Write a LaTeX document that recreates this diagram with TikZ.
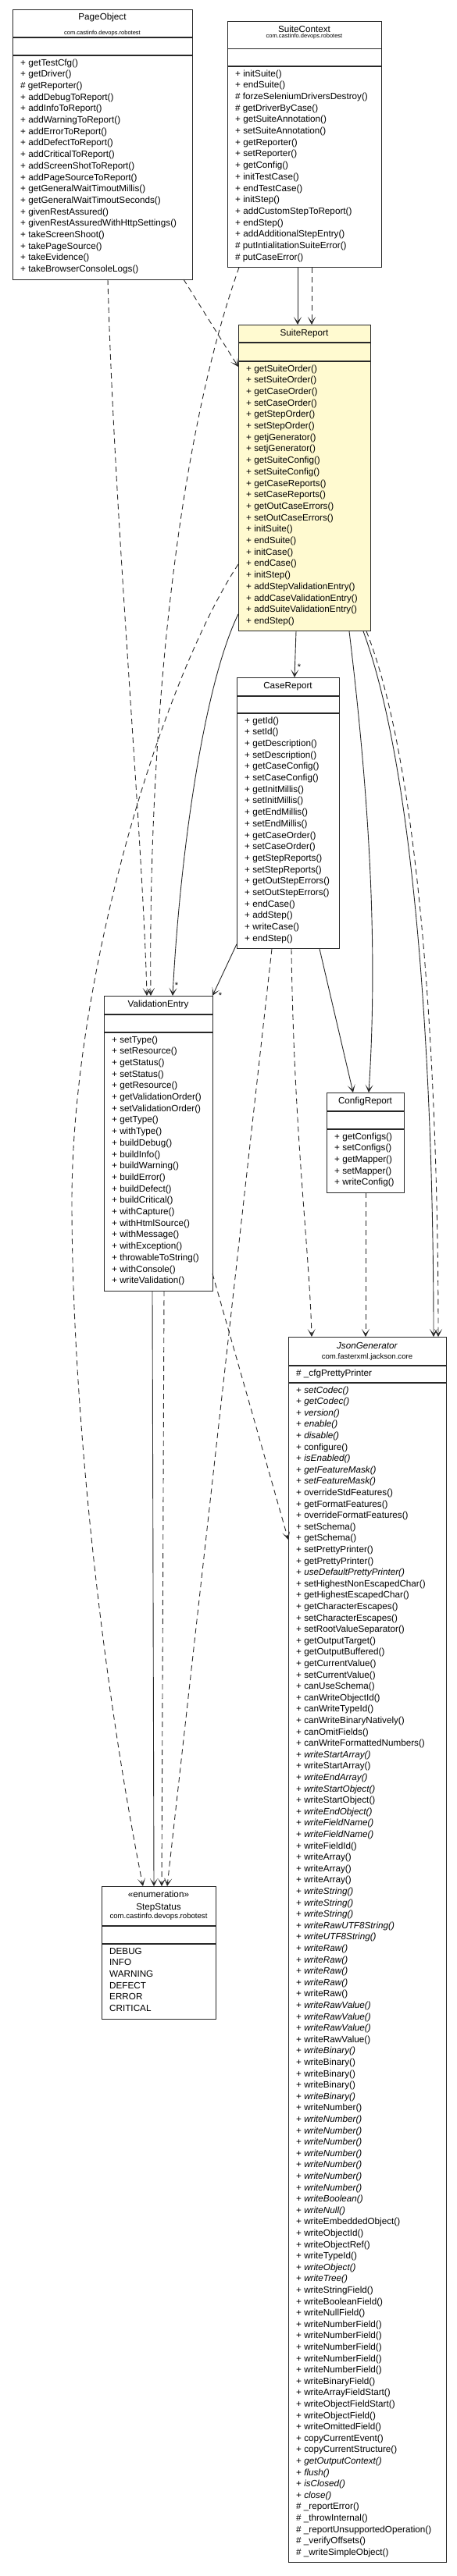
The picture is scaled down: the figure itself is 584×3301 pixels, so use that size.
\documentclass[tikz,border=0pt]{standalone}
\usepackage{fontspec}
\setmainfont{Liberation Sans}
\usetikzlibrary{arrows.meta,calc}
\definecolor{srfill}{RGB}{255,250,208}
\definecolor{ink}{RGB}{40,40,40}
\newcommand{\absm}[1]{+ \textit{#1}}
\newcommand{\umlmethods}[4][14.7]{\foreach \m [count=\k from 0] in {#4} {\node[mtext] at ($(#2.north west)+(10,{#3+\k*#1})$) {\m};}}
\newcommand{\umldiv}[2]{\draw[divider] ($(#1.north west)+(0,#2)$) -- ($(#1.north east)+(0,#2)$);}
\begin{document}
\begin{tikzpicture}[x=1pt,y=-1pt,
  umlbox/.style={draw=ink, line width=1pt, fill=white, anchor=north west, inner sep=0pt, outer sep=0pt},
  mtext/.style={anchor=base west, inner sep=0pt, font=\fontsize{11.7}{14}\selectfont},
  ntext/.style={anchor=base, inner sep=0pt, font=\fontsize{11.7}{14}\selectfont},
  ptext/.style={anchor=base, inner sep=0pt, font=\fontsize{7.5}{9}\selectfont},
  pbig/.style={anchor=base, inner sep=0pt, font=\fontsize{9.6}{11}\selectfont},
  divider/.style={line width=1.3pt, ink},
  conn/.style={line width=0.9pt, ink, -{Stealth[length=10pt,width=10pt,inset=6pt]}},
  dep/.style={conn, dash pattern=on 7pt off 5pt},
  mult/.style={anchor=base, inner sep=0pt, font=\fontsize{11}{12}\selectfont}
]
\useasboundingbox[fill=white] (0,0) rectangle (584,3301);

% ---------- PageObject ----------
\node[umlbox, minimum width=230pt, minimum height=346pt] (po) at (16,12) {};
\node[ntext] at ($(po.north)+(0,13.5)$) {PageObject};
\node[ptext] at ($(po.north)+(0,32.3)$) {com.castinfo.devops.robotest};
\umldiv{po}{36}
\umldiv{po}{59}
\umlmethods{po}{72}{+ getTestCfg(), + getDriver(), \# getReporter(), + addDebugToReport(), + addInfoToReport(), + addWarningToReport(), + addErrorToReport(), + addDefectToReport(), + addCriticalToReport(), + addScreenShotToReport(), + addPageSourceToReport(), + getGeneralWaitTimoutMillis(), + getGeneralWaitTimoutSeconds(), + givenRestAssured(), + givenRestAssuredWithHttpSettings(), + takeScreenShoot(), + takePageSource(), + takeEvidence(), + takeBrowserConsoleLogs()}

% ---------- SuiteContext ----------
\node[umlbox, minimum width=197pt, minimum height=315.7pt] (sc) at (291,27) {};
\node[ntext] at ($(sc.north)+(0,14)$) {SuiteContext};
\node[ptext] at ($(sc.north)+(0,21.3)$) {com.castinfo.devops.robotest};
\umldiv{sc}{35.3}
\umldiv{sc}{58}
\umlmethods{sc}{71}{+ initSuite(), + endSuite(), \# forzeSeleniumDriversDestroy(), \# getDriverByCase(), + getSuiteAnnotation(), + setSuiteAnnotation(), + getReporter(), + setReporter(), + getConfig(), + initTestCase(), + endTestCase(), + initStep(), + addCustomStepToReport(), + endStep(), + addAdditionalStepEntry(), \# putIntialitationSuiteError(), \# putCaseError()}

% ---------- SuiteReport ----------
\node[umlbox, fill=srfill, minimum width=169pt, minimum height=392.9pt] (sr) at (305,416) {};
\node[ntext] at ($(sr.north)+(0,14)$) {SuiteReport};
\umldiv{sr}{23}
\umldiv{sr}{47}
\umlmethods{sr}{60}{+ getSuiteOrder(), + setSuiteOrder(), + getCaseOrder(), + setCaseOrder(), + getStepOrder(), + setStepOrder(), + getjGenerator(), + setjGenerator(), + getSuiteConfig(), + setSuiteConfig(), + getCaseReports(), + setCaseReports(), + getOutCaseErrors(), + setOutCaseErrors(), + initSuite(), + endSuite(), + initCase(), + endCase(), + initStep(), + addStepValidationEntry(), + addCaseValidationEntry(), + addSuiteValidationEntry(), + endStep()}

% ---------- CaseReport ----------
\node[umlbox, minimum width=131pt, minimum height=347.8pt] (cr) at (303,868) {};
\node[ntext] at ($(cr.north)+(0,14)$) {CaseReport};
\umldiv{cr}{24}
\umldiv{cr}{46}
\umlmethods{cr}{59}{+ getId(), + setId(), + getDescription(), + setDescription(), + getCaseConfig(), + setCaseConfig(), + getInitMillis(), + setInitMillis(), + getEndMillis(), + setEndMillis(), + getCaseOrder(), + setCaseOrder(), + getStepReports(), + setStepReports(), + getOutStepErrors(), + setOutStepErrors(), + endCase(), + addStep(), + writeCase(), + endStep()}

% ---------- ValidationEntry ----------
\node[umlbox, minimum width=139pt, minimum height=378.2pt] (ve) at (133,1276) {};
\node[ntext] at ($(ve.north)+(0,14.3)$) {ValidationEntry};
\umldiv{ve}{24}
\umldiv{ve}{47}
\umlmethods{ve}{60}{+ setType(), + setResource(), + getStatus(), + setStatus(), + getResource(), + getValidationOrder(), + setValidationOrder(), + getType(), + withType(), + buildDebug(), + buildInfo(), + buildWarning(), + buildError(), + buildDefect(), + buildCritical(), + withCapture(), + withHtmlSource(), + withMessage(), + withException(), + throwableToString(), + withConsole(), + writeValidation()}

% ---------- ConfigReport ----------
\node[umlbox, minimum width=99pt, minimum height=128.3pt] (cfg) at (418,1400) {};
\node[ntext] at ($(cfg.north)+(0,14.3)$) {ConfigReport};
\umldiv{cfg}{24}
\umldiv{cfg}{47}
\umlmethods{cfg}{60}{+ getConfigs(), + setConfigs(), + getMapper(), + setMapper(), + writeConfig()}

% ---------- StepStatus ----------
\node[umlbox, minimum width=146pt, minimum height=170pt] (ss) at (130,2417) {};
\node[ntext] at ($(ss.north)+(0,14.7)$) {«enumeration»};
\node[ntext] at ($(ss.north)+(0,30)$) {StepStatus};
\node[pbig] at ($(ss.north)+(0,41.5)$) {com.castinfo.devops.robotest};
\umldiv{ss}{51}
\umldiv{ss}{74}
\umlmethods{ss}{87}{DEBUG, INFO, WARNING, DEFECT, ERROR, CRITICAL}

% ---------- JsonGenerator ----------
\node[umlbox, minimum width=202pt, minimum height=1570.7pt] (jg) at (369,1713) {};
\node[ntext] at ($(jg.north)+(0,15)$) {\textit{JsonGenerator}};
\node[pbig] at ($(jg.north)+(0,28.5)$) {com.fasterxml.jackson.core};
\umldiv{jg}{37}
\node[mtext] at ($(jg.north west)+(10,50)$) {\# \_cfgPrettyPrinter};
\umldiv{jg}{59}
\umlmethods[14.6]{jg}{72}{\absm{setCodec()}, \absm{getCodec()}, \absm{version()}, \absm{enable()}, \absm{disable()}, + configure(), \absm{isEnabled()}, \absm{getFeatureMask()}, \absm{setFeatureMask()}, + overrideStdFeatures(), + getFormatFeatures(), + overrideFormatFeatures(), + setSchema(), + getSchema(), + setPrettyPrinter(), + getPrettyPrinter(), \absm{useDefaultPrettyPrinter()}, + setHighestNonEscapedChar(), + getHighestEscapedChar(), + getCharacterEscapes(), + setCharacterEscapes(), + setRootValueSeparator(), + getOutputTarget(), + getOutputBuffered(), + getCurrentValue(), + setCurrentValue(), + canUseSchema(), + canWriteObjectId(), + canWriteTypeId(), + canWriteBinaryNatively(), + canOmitFields(), + canWriteFormattedNumbers(), \absm{writeStartArray()}, + writeStartArray(), \absm{writeEndArray()}, \absm{writeStartObject()}, + writeStartObject(), \absm{writeEndObject()}, \absm{writeFieldName()}, \absm{writeFieldName()}, + writeFieldId(), + writeArray(), + writeArray(), + writeArray(), \absm{writeString()}, \absm{writeString()}, \absm{writeString()}, \absm{writeRawUTF8String()}, \absm{writeUTF8String()}, \absm{writeRaw()}, \absm{writeRaw()}, \absm{writeRaw()}, \absm{writeRaw()}, + writeRaw(), \absm{writeRawValue()}, \absm{writeRawValue()}, \absm{writeRawValue()}, + writeRawValue(), \absm{writeBinary()}, + writeBinary(), + writeBinary(), + writeBinary(), \absm{writeBinary()}, + writeNumber(), \absm{writeNumber()}, \absm{writeNumber()}, \absm{writeNumber()}, \absm{writeNumber()}, \absm{writeNumber()}, \absm{writeNumber()}, \absm{writeNumber()}, \absm{writeBoolean()}, \absm{writeNull()}, + writeEmbeddedObject(), + writeObjectId(), + writeObjectRef(), + writeTypeId(), \absm{writeObject()}, \absm{writeTree()}, + writeStringField(), + writeBooleanField(), + writeNullField(), + writeNumberField(), + writeNumberField(), + writeNumberField(), + writeNumberField(), + writeNumberField(), + writeBinaryField(), + writeArrayFieldStart(), + writeObjectFieldStart(), + writeObjectField(), + writeOmittedField(), + copyCurrentEvent(), + copyCurrentStructure(), \absm{getOutputContext()}, \absm{flush()}, \absm{isClosed()}, \absm{close()}, \# \_reportError(), \# \_throwInternal(), \# \_reportUnsupportedOperation(), \# \_verifyOffsets(), \# \_writeSimpleObject()}

% ---------- connectors ----------
% PageObject
\draw[dep] ($(po.south west)+(219,0)$) -- ($(sr.north west)+(0,54)$);
\draw[dep] ($(po.south west)+(122,0)$) .. controls ($(po.south west)+(130,300)$) and ($(ve.north west)+(50,-200)$) .. ($(ve.north west)+(55,0)$);
% SuiteContext
\draw[dep] ($(sc.south west)+(15,0)$) .. controls ($(sc.south west)+(-76,257)$) and ($(ve.north west)+(57,-276)$) .. ($(ve.north west)+(60,0)$);
\draw[conn] ($(sc.south west)+(90,0)$) -- ($(sr.north west)+(76,0)$);
\draw[dep] ($(sc.south west)+(108,0)$) -- ($(sr.north west)+(94,0)$);
% SuiteReport
\draw[dep] ($(sr.north west)+(0,307)$) .. controls ($(sr.north west)+(-97,455)$) and ($(ve.north west)+(-41,-26)$) .. ($(ve.north west)+(-41,264)$)
  .. controls ($(ve.north west)+(-41,524)$) and ($(ss.north west)+(0,-267)$) .. ($(ss.north west)+(53,0)$);
\draw[conn] ($(sr.south west)+(0,-22)$) .. controls ($(sr.south west)+(-45,71)$) and ($(ve.north west)+(97,-176)$) .. ($(ve.north west)+(88,0)$);
\node[mult] at ($(ve.north west)+(93,-10)$) {*};
\draw[conn] ($(sr.south west)+(74,0)$) -- ($(cr.north west)+(74,0)$);
\node[mult] at ($(cr.north west)+(80,-10)$) {*};
\draw[conn] ($(sr.south west)+(142,0)$) .. controls ($(sr.south west)+(165,191)$) and ($(cfg.north west)+(67,-200)$) .. ($(cfg.north west)+(54,0)$);
\draw[conn] ($(sr.south west)+(160,0)$) .. controls ($(sr.south west)+(230,191)$) and ($(jg.north west)+(186,-313)$) .. ($(jg.north west)+(186,0)$);
\draw[dep] ($(sr.south west)+(164,0)$) .. controls ($(sr.south west)+(236,181)$) and ($(jg.north west)+(192,-313)$) .. ($(jg.north west)+(192,0)$);
% CaseReport
\draw[conn] ($(cr.south west)+(0,-6)$) -- (ve.north east);
\node[mult] at ($(ve.north east)+(10,3)$) {*};
\draw[conn] ($(cr.south west)+(106,0)$) -- ($(cfg.north west)+(34,0)$);
\draw[dep] ($(cr.south west)+(45,0)$) -- ($(ss.north west)+(84,0)$);
\draw[dep] ($(cr.south west)+(70,0)$) .. controls ($(cr.south west)+(73,234)$) and ($(jg.north west)+(27,-113)$) .. ($(jg.north west)+(30,0)$);
% ConfigReport
\draw[dep] ($(cfg.south west)+(50,0)$) -- ($(jg.north west)+(99,0)$);
% ValidationEntry
\draw[conn] ($(ve.south west)+(62,0)$) -- ($(ss.north west)+(67,0)$);
\draw[dep] ($(ve.south west)+(77,0)$) -- ($(ss.north west)+(77,0)$);
\draw[dep] ($(ve.south east)+(0,-22)$) -- ($(jg.north west)+(0,260)$);
\end{tikzpicture}
\end{document}
